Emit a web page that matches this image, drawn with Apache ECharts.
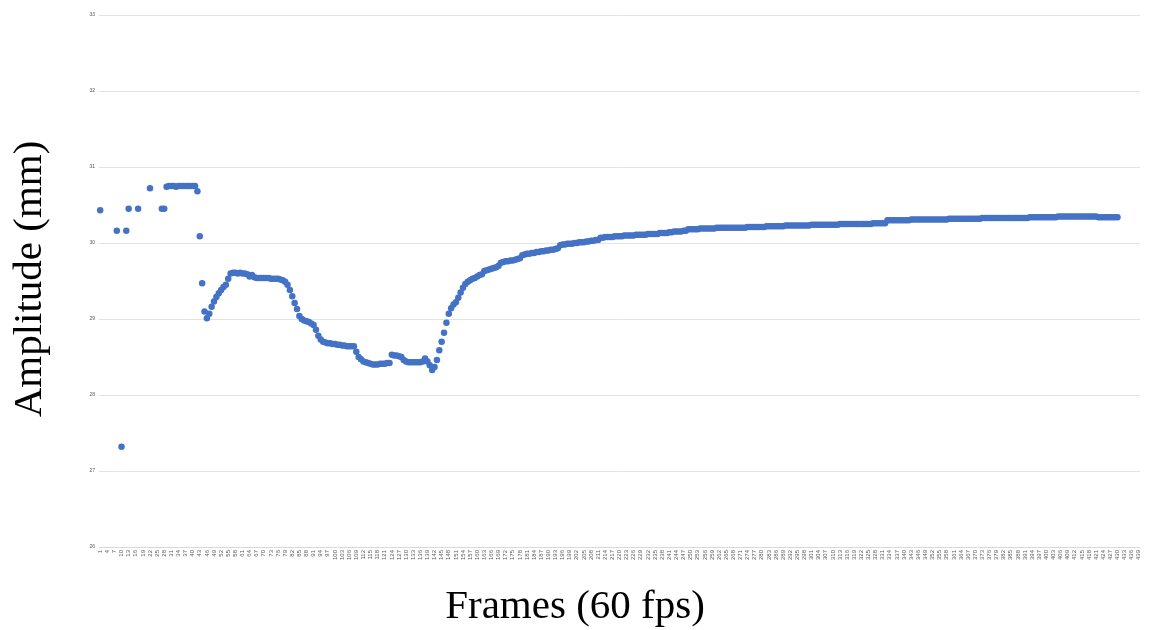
<!DOCTYPE html>
<html>
<head>
<meta charset="utf-8">
<title>Amplitude per frame</title>
<script src="https://cdn.jsdelivr.net/npm/echarts@6/dist/echarts.min.js"></script>
<style>
  html, body { margin: 0; padding: 0; background: #ffffff; }
  #chart { width: 1151px; height: 630px; }
</style>
</head>
<body>
<div id="chart"></div>
<script>
// Frame numbers shown on the category axis (1 .. 439)
const frameCount = 439;
const frames = [];
for (let i = 1; i <= frameCount; i++) frames.push(String(i));

// Y-axis tick values (mm)
const yTicks = [26, 27, 28, 29, 30, 31, 32, 33];

// Measured amplitude per frame, mm ('-' = no measurement for that frame)
const amplitude = [
  30.43, '-', '-', '-', '-', '-', '-', 30.16, '-', 27.32,
  '-', 30.16, 30.45, '-', '-', '-', 30.45, '-', '-', '-',
  '-', 30.72, '-', '-', '-', '-', 30.45, 30.45, 30.74, 30.75,
  30.75, 30.75, 30.74, 30.75, 30.75, 30.75, 30.75, 30.75, 30.75, 30.75,
  30.75, 30.68, 30.09, 29.47, 29.10, 29.01, 29.07, 29.16, 29.23, 29.29,
  29.34, 29.38, 29.42, 29.45, 29.53, 29.60, 29.61, 29.61, 29.60, 29.61,
  29.60, 29.60, 29.59, 29.56, 29.58, 29.55, 29.54, 29.54, 29.54, 29.54,
  29.54, 29.54, 29.53, 29.53, 29.53, 29.53, 29.52, 29.51, 29.49, 29.45,
  29.38, 29.30, 29.21, 29.13, 29.04, 29.00, 28.98, 28.97, 28.96, 28.94,
  28.92, 28.86, 28.78, 28.73, 28.70, 28.69, 28.68, 28.68, 28.67, 28.67,
  28.66, 28.66, 28.65, 28.65, 28.64, 28.64, 28.64, 28.64, 28.57, 28.50,
  28.47, 28.44, 28.43, 28.42, 28.41, 28.40, 28.40, 28.40, 28.41, 28.41,
  28.41, 28.42, 28.42, 28.53, 28.52, 28.52, 28.51, 28.50, 28.46, 28.44,
  28.43, 28.43, 28.43, 28.43, 28.43, 28.43, 28.44, 28.48, 28.44, 28.39,
  28.33, 28.37, 28.46, 28.59, 28.70, 28.82, 28.95, 29.07, 29.14, 29.19,
  29.22, 29.28, 29.35, 29.41, 29.46, 29.49, 29.51, 29.53, 29.54, 29.56,
  29.58, 29.59, 29.63, 29.64, 29.65, 29.66, 29.67, 29.68, 29.70, 29.74,
  29.75, 29.76, 29.76, 29.77, 29.77, 29.78, 29.79, 29.80, 29.84, 29.85,
  29.86, 29.86, 29.87, 29.87, 29.88, 29.88, 29.89, 29.89, 29.90, 29.90,
  29.91, 29.91, 29.92, 29.93, 29.97, 29.98, 29.98, 29.99, 29.99, 29.99,
  30.00, 30.00, 30.01, 30.01, 30.01, 30.02, 30.02, 30.03, 30.03, 30.04,
  30.04, 30.07, 30.07, 30.08, 30.08, 30.08, 30.08, 30.09, 30.09, 30.09,
  30.09, 30.10, 30.10, 30.10, 30.10, 30.10, 30.11, 30.11, 30.11, 30.11,
  30.11, 30.12, 30.12, 30.12, 30.12, 30.12, 30.13, 30.13, 30.13, 30.13,
  30.14, 30.14, 30.15, 30.15, 30.15, 30.15, 30.16, 30.16, 30.18, 30.18,
  30.18, 30.18, 30.18, 30.19, 30.19, 30.19, 30.19, 30.19, 30.19, 30.19,
  30.20, 30.20, 30.20, 30.20, 30.20, 30.20, 30.20, 30.20, 30.20, 30.20,
  30.20, 30.20, 30.20, 30.21, 30.21, 30.21, 30.21, 30.21, 30.21, 30.21,
  30.21, 30.22, 30.22, 30.22, 30.22, 30.22, 30.22, 30.22, 30.22, 30.23,
  30.23, 30.23, 30.23, 30.23, 30.23, 30.23, 30.23, 30.23, 30.23, 30.23,
  30.24, 30.24, 30.24, 30.24, 30.24, 30.24, 30.24, 30.24, 30.24, 30.24,
  30.24, 30.24, 30.25, 30.25, 30.25, 30.25, 30.25, 30.25, 30.25, 30.25,
  30.25, 30.25, 30.25, 30.25, 30.25, 30.25, 30.26, 30.26, 30.26, 30.26,
  30.26, 30.26, 30.30, 30.30, 30.30, 30.30, 30.30, 30.30, 30.30, 30.30,
  30.30, 30.30, 30.31, 30.31, 30.31, 30.31, 30.31, 30.31, 30.31, 30.31,
  30.31, 30.31, 30.31, 30.31, 30.31, 30.31, 30.31, 30.31, 30.32, 30.32,
  30.32, 30.32, 30.32, 30.32, 30.32, 30.32, 30.32, 30.32, 30.32, 30.32,
  30.32, 30.32, 30.33, 30.33, 30.33, 30.33, 30.33, 30.33, 30.33, 30.33,
  30.33, 30.33, 30.33, 30.33, 30.33, 30.33, 30.33, 30.33, 30.33, 30.33,
  30.33, 30.33, 30.34, 30.34, 30.34, 30.34, 30.34, 30.34, 30.34, 30.34,
  30.34, 30.34, 30.34, 30.34, 30.35, 30.35, 30.35, 30.35, 30.35, 30.35,
  30.35, 30.35, 30.35, 30.35, 30.35, 30.35, 30.35, 30.35, 30.35, 30.35,
  30.35, 30.34, 30.34, 30.34, 30.34, 30.34, 30.34, 30.34, 30.34, 30.34
];

const chart = echarts.init(document.getElementById('chart'), null, { renderer: 'canvas' });

const gridLeft = 99, gridRight = 11, gridTop = 15, gridBottom = 83;

chart.setOption({
  animation: false,
  backgroundColor: '#ffffff',
  grid: { left: gridLeft, right: gridRight, top: gridTop, bottom: gridBottom, containLabel: false },
  xAxis: {
    type: 'category',
    data: frames,
    boundaryGap: true,
    axisLine: { show: true, lineStyle: { color: '#d9d9d9', width: 1 } },
    axisTick: { show: false },
    axisLabel: {
      interval: 2,
      rotate: 90,
      fontSize: 6,
      color: '#595959',
      fontFamily: 'Liberation Sans',
      margin: 3
    },
    splitLine: { show: false }
  },
  yAxis: {
    type: 'value',
    min: yTicks[0],
    max: yTicks[yTicks.length - 1],
    interval: 1,
    axisLine: { show: false },
    axisTick: { show: false },
    axisLabel: {
      fontSize: 5,
      color: '#595959',
      fontFamily: 'Liberation Sans',
      margin: 4
    },
    splitLine: { show: true, lineStyle: { color: '#e3e3e3', width: 1 } }
  },
  series: [{
    type: 'scatter',
    data: amplitude,
    symbol: 'circle',
    symbolSize: 6.5,
    itemStyle: { color: '#4472c4', opacity: 1 }
  }],
  graphic: [
    {
      type: 'text',
      x: 30,
      y: 279,
      rotation: Math.PI / 2,
      style: {
        text: 'Amplitude (mm)',
        font: '41px "Liberation Serif", "Times New Roman", serif',
        fill: '#000000',
        textAlign: 'center',
        textVerticalAlign: 'middle'
      }
    },
    {
      type: 'text',
      x: 575,
      y: 607,
      style: {
        text: 'Frames (60 fps)',
        font: '41px "Liberation Serif", "Times New Roman", serif',
        fill: '#000000',
        textAlign: 'center',
        textVerticalAlign: 'middle'
      }
    }
  ]
});
</script>
</body>
</html>
